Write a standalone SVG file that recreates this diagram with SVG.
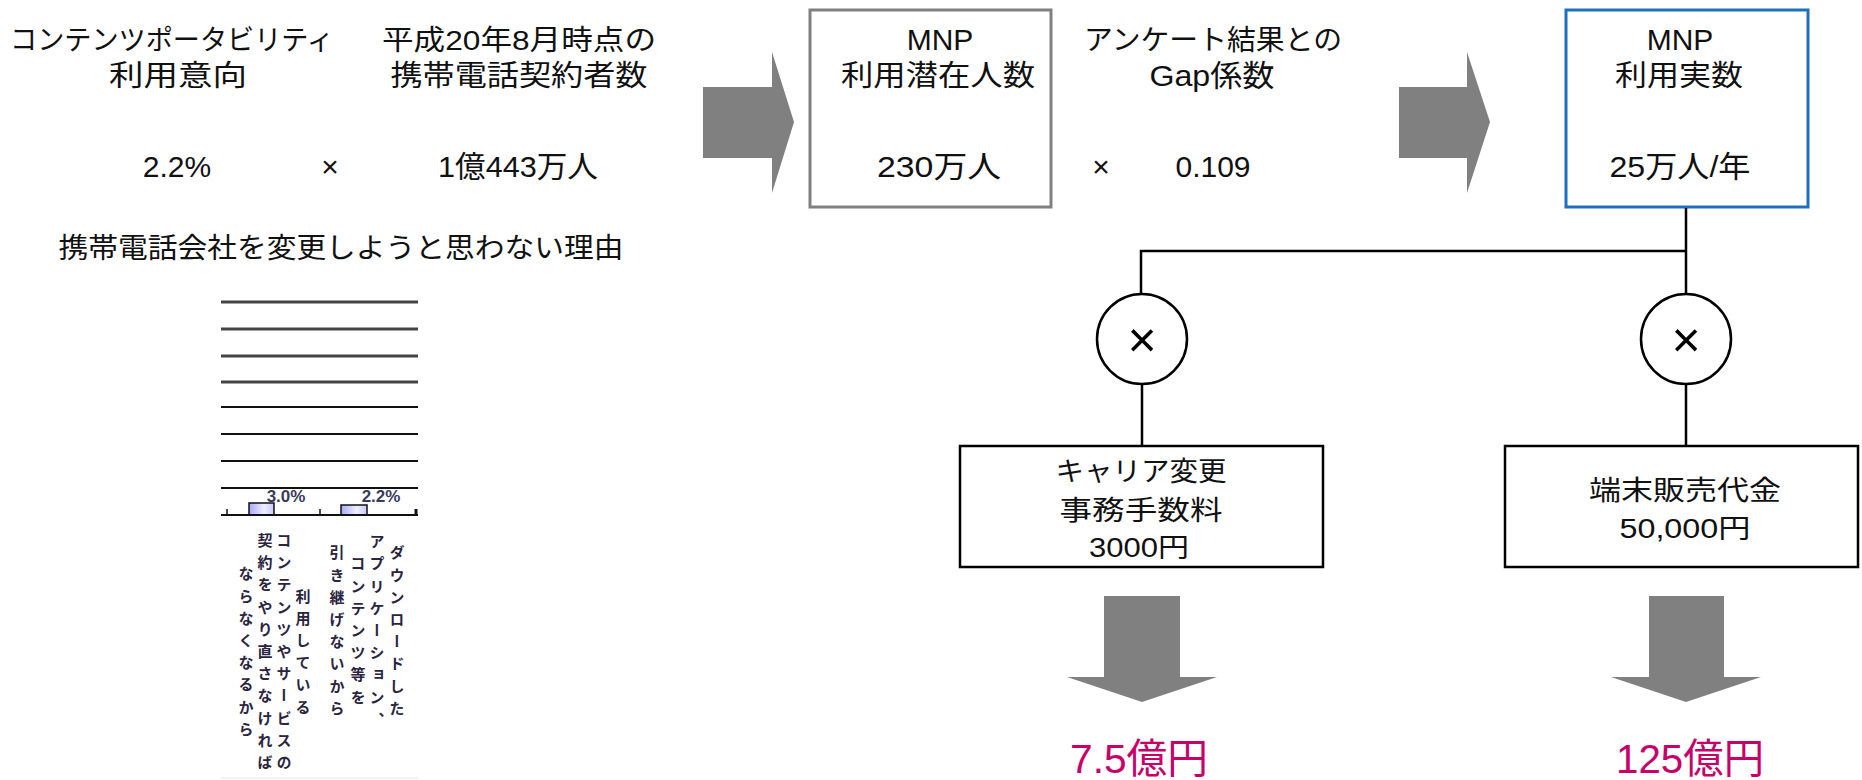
<svg xmlns="http://www.w3.org/2000/svg" width="1862" height="780" viewBox="0 0 1862 780">
  <defs>
    <style>
      .t { font-family: "Liberation Sans", "Noto Sans CJK JP", sans-serif; fill: #111; text-anchor: middle; }
      .h { font-size: 28px; }
      .k { font-size: 29px; }
      .n { font-size: 30px; }
      .b { font-size: 27px; }
      .res { font-family: "Liberation Sans", "Noto Sans CJK JP", sans-serif; font-size: 41px; fill: #c8006a; text-anchor: middle; }
      .blk { fill: #808080; stroke: none; }
      .ln { stroke: #000; stroke-width: 2.5; fill: none; }
      .grid1 { stroke: #444; stroke-width: 3; }
      .grid2 { stroke: #111; stroke-width: 2; }
      .vt { font-family: "Noto Sans CJK JP", sans-serif; font-size: 15px; font-weight: bold; fill: #2a2440; writing-mode: vertical-rl; text-anchor: middle; letter-spacing: 7.2px; }
      .pct { font-family: "Liberation Sans", sans-serif; font-size: 17px; font-weight: bold; fill: #3a3a5a; text-anchor: middle; }
      .mx { font-family: "Liberation Sans", sans-serif; font-size: 50px; fill: #000; text-anchor: middle; }
    </style>
    <linearGradient id="barg" x1="0" y1="0" x2="1" y2="0">
      <stop offset="0" stop-color="#a8a8ff"/>
      <stop offset="0.6" stop-color="#eeeeff"/>
      <stop offset="1" stop-color="#c8c8ff"/>
    </linearGradient>
  </defs>
  <rect width="1862" height="780" fill="#fff"/>

  <!-- top-left formula -->
  <g id="intent">
    <text class="t h" x="172" y="50" textLength="324" lengthAdjust="spacingAndGlyphs">コンテンツポータビリティ</text>
    <text class="t k" x="178" y="86" textLength="138" lengthAdjust="spacingAndGlyphs">利用意向</text>
    <text class="t n" x="177" y="177">2.2%</text>
  </g>
  <g id="times1"><text class="t n" x="330" y="177">×</text></g>
  <g id="subscribers">
    <text class="t h" x="519" y="50" textLength="274" lengthAdjust="spacingAndGlyphs">平成20年8月時点の</text>
    <text class="t k" x="519" y="86" textLength="257" lengthAdjust="spacingAndGlyphs">携帯電話契約者数</text>
    <text class="t n" x="518" y="177" textLength="160" lengthAdjust="spacingAndGlyphs">1億443万人</text>
  </g>

  <!-- block arrows -->
  <g id="arrows">
    <polygon class="blk" points="703,87 772,87 772,52 794,122 772,193 772,158 703,158"/>
    <polygon class="blk" points="1399,87 1467,87 1467,52 1490,122 1467,193 1467,158 1399,158"/>
    <polygon class="blk" points="1104,596 1180,596 1180,677 1217,677 1142,702 1067,677 1104,677"/>
    <polygon class="blk" points="1649,596 1724,596 1724,677 1761,677 1686,702 1611,677 1649,677"/>
  </g>

  <g id="potential">
    <rect x="810" y="10" width="241" height="197" fill="#fff" stroke="#808080" stroke-width="3"/>
    <text class="t n" x="940" y="50">MNP</text>
    <text class="t k" x="938" y="86" textLength="194" lengthAdjust="spacingAndGlyphs">利用潜在人数</text>
    <text class="t n" x="939" y="177" textLength="124" lengthAdjust="spacingAndGlyphs">230万人</text>
  </g>

  <g id="gap">
    <text class="t h" x="1213" y="50" textLength="258" lengthAdjust="spacingAndGlyphs">アンケート結果との</text>
    <text class="t n" x="1212" y="86" textLength="125" lengthAdjust="spacingAndGlyphs">Gap係数</text>
    <text class="t n" x="1101" y="177">×</text>
    <text class="t n" x="1213" y="177">0.109</text>
  </g>

  <g id="actual">
    <rect x="1566" y="10" width="242" height="197" fill="#fff" stroke="#1f6fbf" stroke-width="3"/>
    <text class="t n" x="1680" y="50">MNP</text>
    <text class="t k" x="1679" y="86" textLength="128" lengthAdjust="spacingAndGlyphs">利用実数</text>
    <text class="t n" x="1680" y="177" textLength="141" lengthAdjust="spacingAndGlyphs">25万人/年</text>
  </g>

  <!-- connectors -->
  <g id="connectors">
    <polyline class="ln" points="1686,208 1686,294"/>
    <polyline class="ln" points="1686,251 1141,251 1141,294"/>
    <line class="ln" x1="1142" y1="384" x2="1142" y2="446"/>
    <line class="ln" x1="1686" y1="384" x2="1686" y2="446"/>
  </g>

  <g id="mul1">
    <circle cx="1142" cy="339" r="45" fill="#fff" stroke="#000" stroke-width="2.5"/>
    <text class="mx" x="1142" y="357">×</text>
  </g>
  <g id="mul2">
    <circle cx="1686" cy="339" r="45" fill="#fff" stroke="#000" stroke-width="2.5"/>
    <text class="mx" x="1686" y="357">×</text>
  </g>

  <g id="fee">
    <rect x="960" y="446" width="363" height="121" fill="#fff" stroke="#000" stroke-width="2.5"/>
    <text class="t b" x="1141" y="481" textLength="171" lengthAdjust="spacingAndGlyphs">キャリア変更</text>
    <text class="t b" x="1141" y="520" textLength="163" lengthAdjust="spacingAndGlyphs">事務手数料</text>
    <text class="t b" x="1139" y="557" textLength="100" lengthAdjust="spacingAndGlyphs">3000円</text>
  </g>
  <g id="device">
    <rect x="1505" y="446" width="353" height="121" fill="#fff" stroke="#000" stroke-width="2.5"/>
    <text class="t b" x="1685" y="500" textLength="192" lengthAdjust="spacingAndGlyphs">端末販売代金</text>
    <text class="t b" x="1685" y="538" textLength="131" lengthAdjust="spacingAndGlyphs">50,000円</text>
  </g>

  <g id="result1"><text class="res" x="1139" y="773" textLength="138" lengthAdjust="spacingAndGlyphs">7.5億円</text></g>
  <g id="result2"><text class="res" x="1690" y="773" textLength="148" lengthAdjust="spacingAndGlyphs">125億円</text></g>

  <!-- chart -->
  <g id="chart">
    <text class="t h" x="341" y="258" textLength="565" lengthAdjust="spacingAndGlyphs">携帯電話会社を変更しようと思わない理由</text>
    <line class="grid1" x1="221" y1="302" x2="418" y2="302"/>
    <line class="grid1" x1="221" y1="329" x2="418" y2="329"/>
    <line class="grid1" x1="221" y1="356" x2="418" y2="356"/>
    <line class="grid1" x1="221" y1="382" x2="418" y2="382"/>
    <line class="grid2" x1="221" y1="407" x2="418" y2="407"/>
    <line class="grid2" x1="221" y1="434" x2="418" y2="434"/>
    <line class="grid2" x1="221" y1="461" x2="418" y2="461"/>
    <line class="grid2" x1="221" y1="488" x2="418" y2="488"/>
    <rect x="249" y="503" width="25" height="12" fill="url(#barg)" stroke="#111" stroke-width="1.5"/>
    <rect x="341" y="505" width="26" height="10" fill="url(#barg)" stroke="#111" stroke-width="1.5"/>
    <line x1="221" y1="515" x2="418" y2="515" stroke="#111" stroke-width="2"/>
    <line x1="227" y1="509" x2="227" y2="515" stroke="#111" stroke-width="1.5"/>
    <line x1="320" y1="509" x2="320" y2="515" stroke="#111" stroke-width="1.5"/>
    <line x1="416" y1="509" x2="416" y2="515" stroke="#111" stroke-width="3"/>
    <text class="pct" x="286" y="502">3.0%</text>
    <text class="pct" x="381" y="502">2.2%</text>
    <text class="vt" x="303" y="655">利用している</text>
    <text class="vt" x="284" y="655">コンテンツやサービスの</text>
    <text class="vt" x="265" y="655">契約をやり直さなければ</text>
    <text class="vt" x="246" y="655">ならなくなるから</text>
    <text class="vt" x="397" y="634">ダウンロードした</text>
    <text class="vt" x="377" y="634">アプリケーション、</text>
    <text class="vt" x="358" y="634">コンテンツ等を</text>
    <text class="vt" x="337" y="634">引き継げないから</text>
    <line x1="221" y1="778" x2="418" y2="778" stroke="#e4e4e4" stroke-width="1"/>
  </g>
</svg>
